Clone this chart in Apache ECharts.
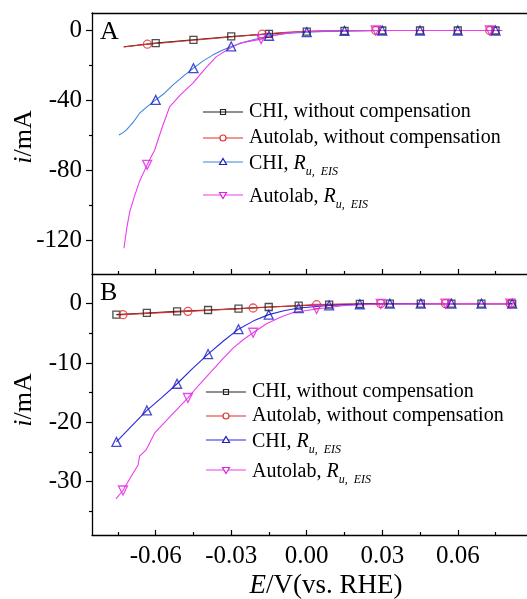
<!DOCTYPE html>
<html lang="en">
<head>
<meta charset="UTF-8" />
<title>LSV compensation</title>
<style>
  html, body { margin: 0; padding: 0; background: #fff; }
  #main { width: 527px; height: 599px; }
</style>
</head>
<body>
<div id="main"></div>
<script src="https://cdn.jsdelivr.net/npm/echarts@6/dist/echarts.min.js"></script>
<script>
// ---- panel A (mA vs V) ----
const aChiLine = [[-0.0727,-9.3],[-0.060,-7.2],[-0.045,-5.3],[-0.030,-3.4],[-0.015,-1.9],[0,-0.6],[0.015,-0.15],[0.030,0],[0.045,0],[0.060,0],[0.075,0],[0.0776,0]];
const aChiMarks = [[-0.060,-7.2],[-0.045,-5.3],[-0.030,-3.4],[-0.015,-1.9],[0,-0.6],[0.015,-0.15],[0.030,0],[0.045,0],[0.060,0],[0.075,0]];
const aAutoLine = [[-0.0727,-9.4],[-0.0633,-7.8],[-0.045,-5.6],[-0.030,-3.7],[-0.0177,-2.1],[-0.008,-1.0],[0,-0.45],[0.010,-0.1],[0.0274,0],[0.0727,0],[0.0776,0]];
const aAutoMarks = [[-0.0633,-7.8],[-0.0177,-2.1],[0.0274,0],[0.0727,0]];
const aRuChiLine = [[-0.0746,-59.6],[-0.0730,-58.3],[-0.0716,-56.7],[-0.0690,-52.5],[-0.0664,-47.2],[-0.0630,-43.0],[-0.060,-39.6],[-0.0565,-35.8],[-0.0531,-31.0],[-0.0490,-26.0],[-0.045,-21.5],[-0.0410,-17.2],[-0.0372,-13.9],[-0.0335,-11.2],[-0.030,-9.1],[-0.0240,-6.3],[-0.015,-3.0],[-0.0070,-1.6],[0,-0.9],[0.0075,-0.5],[0.015,-0.2],[0.030,0],[0.045,0],[0.060,0],[0.075,0],[0.0776,0]];
const aRuChiMarks = [[-0.060,-39.6],[-0.045,-21.5],[-0.030,-9.1],[-0.015,-3.0],[0,-0.9],[0.015,-0.2],[0.030,0],[0.045,0],[0.060,0],[0.075,0]];
const aRuAutoLine = [[-0.0726,-124.3],[-0.0715,-113],[-0.0703,-103.4],[-0.0685,-95],[-0.0664,-86],[-0.0634,-76.7],[-0.0604,-68.2],[-0.0591,-62.5],[-0.0570,-53.5],[-0.0544,-43.4],[-0.0500,-36.5],[-0.0452,-30.0],[-0.0405,-22.0],[-0.0359,-14.9],[-0.0310,-10.5],[-0.0266,-7.2],[-0.0181,-4.9],[-0.0130,-2.8],[-0.0081,-1.5],[0,-0.6],[0.0080,-0.2],[0.0274,0],[0.0727,0],[0.0776,0]];
const aRuAutoMarks = [[-0.0634,-76.7],[-0.0181,-4.9],[0.0274,0],[0.0727,0]];

// ---- panel B ----
const bChiLine = [[-0.0756,-1.85],[-0.0635,-1.57],[-0.0515,-1.3],[-0.0392,-1.07],[-0.0271,-0.84],[-0.0151,-0.56],[-0.0032,-0.34],[0.0089,-0.15],[0.0211,-0.05],[0.0330,0],[0.0453,0],[0.0575,0],[0.0694,0],[0.0816,0]];
const bAutoLine = [[-0.0745,-1.9],[-0.0730,-1.85],[-0.0472,-1.3],[-0.0213,-0.73],[0.0039,-0.17],[0.0294,0],[0.0551,0],[0.0809,0]];
const bAutoMarks = [[-0.0730,-1.85],[-0.0472,-1.3],[-0.0213,-0.73],[0.0039,-0.17],[0.0294,0],[0.0551,0],[0.0809,0]];
const bRuChiLine = [[-0.0756,-23.3],[-0.0695,-20.6],[-0.0635,-18.0],[-0.0575,-15.8],[-0.0515,-13.5],[-0.0453,-10.9],[-0.0392,-8.5],[-0.0331,-6.3],[-0.0271,-4.3],[-0.0211,-2.9],[-0.0151,-1.85],[-0.0091,-1.2],[-0.0032,-0.73],[0.0089,-0.3],[0.0211,-0.1],[0.0330,0],[0.0453,0],[0.0575,0],[0.0694,0],[0.0816,0]];
const bRuChiMarks = [[-0.0756,-23.3],[-0.0635,-18.0],[-0.0515,-13.5],[-0.0392,-8.5],[-0.0271,-4.3],[-0.0151,-1.85],[-0.0032,-0.73],[0.0089,-0.3],[0.0211,-0.1],[0.0330,0],[0.0453,0],[0.0575,0],[0.0694,0],[0.0816,0]];
const bRuAutoLine = [[-0.0758,-32.9],[-0.0730,-31.5],[-0.0700,-29.3],[-0.0670,-27.2],[-0.0664,-25.7],[-0.0637,-24.6],[-0.0604,-21.8],[-0.0540,-18.9],[-0.0472,-15.9],[-0.0430,-13.8],[-0.0385,-11.7],[-0.0340,-9.6],[-0.0293,-7.5],[-0.0250,-6.0],[-0.0213,-4.9],[-0.0160,-3.4],[-0.0100,-2.2],[-0.0054,-1.5],[0.0039,-0.9],[0.0150,-0.3],[0.0294,-0.05],[0.0551,0],[0.0809,0]];
const bRuAutoMarks = [[-0.0730,-31.5],[-0.0472,-15.9],[-0.0213,-4.9],[0.0039,-0.9],[0.0294,-0.05],[0.0551,0],[0.0809,0]];

// ---- ticks ----
const xMajor = [-0.06, -0.03, 0, 0.03, 0.06];
const xMinor = [-0.075, -0.045, -0.015, 0.015, 0.045, 0.075];
const yMajorA = [0, -40, -80, -120];
const yMinorA = [-20, -60, -100];
const yMajorB = [0, -10, -20, -30];
const yMinorB = [-5, -15, -25, -35];

const legendNames = ['CHI, without compensation', 'Autolab, without compensation', 'CHI, ', 'Autolab, '];

const FONT = 'Liberation Serif';
const xMin = -0.0853, xMax = 0.0875;

const dom = document.getElementById('main');
const chart = echarts.init(dom);

function xAx(grid, pos, opts) {
  return Object.assign({
    type: 'value', gridIndex: grid, position: pos, min: xMin, max: xMax,
    axisLine: { show: false, onZero: false, lineStyle: { color: '#000', width: 1.3 } },
    axisTick: { show: false },
    axisLabel: { show: false },
    splitLine: { show: false }
  }, opts);
}
function yAx(grid, min, max, opts) {
  return Object.assign({
    type: 'value', gridIndex: grid, position: 'left', min: min, max: max,
    axisLine: { show: false, onZero: false, lineStyle: { color: '#000', width: 1.3 } },
    axisTick: { show: false },
    axisLabel: { show: false },
    splitLine: { show: false }
  }, opts);
}
const tickStyle = { color: '#000', width: 1.2 };
const labelStyle = { fontFamily: FONT, fontSize: 25, color: '#000' };

const xAxis = [
  // A
  xAx(0, 'bottom', { axisLine: { show: true, onZero: false, lineStyle: { color: '#000', width: 1.3 } },
    axisTick: { show: true, inside: true, length: 5, customValues: xMajor, lineStyle: tickStyle } }),
  xAx(0, 'bottom', { axisTick: { show: true, inside: true, length: 3, customValues: xMinor, lineStyle: tickStyle } }),
  xAx(0, 'top', { axisLine: { show: true, onZero: false, lineStyle: { color: '#000', width: 1.3 } } }),
  // B
  xAx(1, 'bottom', { axisLine: { show: true, onZero: false, lineStyle: { color: '#000', width: 1.3 } },
    axisTick: { show: true, inside: true, length: 5, customValues: xMajor, lineStyle: tickStyle },
    axisLabel: Object.assign({ show: true, customValues: xMajor, margin: 9, formatter: v => v.toFixed(2) }, labelStyle) }),
  xAx(1, 'bottom', { axisTick: { show: true, inside: true, length: 3, customValues: xMinor, lineStyle: tickStyle } })
];

const yAxis = [
  yAx(0, -139, 10, { axisLine: { show: true, onZero: false, lineStyle: { color: '#000', width: 1.3 } },
    axisTick: { show: true, length: 6, customValues: yMajorA, lineStyle: tickStyle },
    axisLabel: Object.assign({ show: true, customValues: yMajorA, margin: 10, formatter: v => String(v) }, labelStyle) }),
  yAx(0, -139, 10, { axisTick: { show: true, length: 3, customValues: yMinorA, lineStyle: tickStyle } }),
  yAx(1, -39, 5, { axisLine: { show: true, onZero: false, lineStyle: { color: '#000', width: 1.3 } },
    axisTick: { show: true, length: 6, customValues: yMajorB, lineStyle: tickStyle },
    axisLabel: Object.assign({ show: true, customValues: yMajorB, margin: 10, formatter: v => String(v) }, labelStyle) }),
  yAx(1, -39, 5, { axisTick: { show: true, length: 3, customValues: yMinorB, lineStyle: tickStyle } })
];

function curve(data, color, xi, yi) {
  return { type: 'line', data: data, xAxisIndex: xi, yAxisIndex: yi, symbol: 'none', showSymbol: false,
    lineStyle: { color: color, width: 1.1 }, z: 2, silent: true };
}
function marks(data, symbol, size, color, xi, yi, rot) {
  return { type: 'scatter', data: data, xAxisIndex: xi, yAxisIndex: yi, symbol: symbol, symbolSize: size,
    symbolRotate: rot || 0, itemStyle: { color: 'rgba(0,0,0,0)', borderColor: color, borderWidth: 1.3 }, z: 3, silent: true };
}

const cBlack = '#222', cRed = '#e0302c', cBlueA = '#3b86d6', cBlueB = '#2828d8', cBlueMk = '#1c1cc4', cMag = '#ee3cee', cMagMk = '#e020e0';

const series = [
  curve(aChiLine, cBlack, 0, 0),
  curve(aAutoLine, cRed, 0, 0),
  curve(aRuChiLine, cBlueA, 0, 0),
  curve(aRuAutoLine, cMag, 0, 0),
  marks(aChiMarks, 'rect', 7, cBlack, 0, 0),
  marks(aAutoMarks, 'circle', 8, cRed, 0, 0),
  marks(aRuChiMarks, 'triangle', 9, cBlueMk, 0, 0),
  marks(aRuAutoMarks, 'triangle', 9, cMagMk, 0, 0, 180),
  curve(bChiLine, cBlack, 3, 2),
  curve(bAutoLine, cRed, 3, 2),
  curve(bRuChiLine, cBlueB, 3, 2),
  curve(bRuAutoLine, cMag, 3, 2),
  marks(bChiLine, 'rect', 7, cBlack, 3, 2),
  marks(bAutoMarks, 'circle', 8, cRed, 3, 2),
  marks(bRuChiMarks, 'triangle', 9, cBlueMk, 3, 2),
  marks(bRuAutoMarks, 'triangle', 9, cMagMk, 3, 2, 180)
];

// legend drawn as graphic rows
const richText = {
  n: { fontFamily: FONT, fontSize: 20, lineHeight: 20, verticalAlign: 'top', fill: '#000' },
  r: { fontFamily: FONT, fontSize: 20, lineHeight: 20, fontStyle: 'italic', verticalAlign: 'top', fill: '#000' },
  s: { fontFamily: FONT, fontSize: 12, lineHeight: 12, fontStyle: 'italic', verticalAlign: 'top', padding: [12, 0, 0, 0], fill: '#000' }
};
function markerShape(kind, cx, cy, color) {
  const st = { fill: 'none', stroke: color, lineWidth: 1.2 };
  if (kind === 'rect') return { type: 'rect', shape: { x: cx - 2.5, y: cy - 2.5, width: 5, height: 5 }, style: st, z: 101 };
  if (kind === 'circle') return { type: 'circle', shape: { cx: cx, cy: cy, r: 3 }, style: Object.assign({}, st, { fill: '#fff' }), z: 101 };
  if (kind === 'up') return { type: 'polygon', shape: { points: [[cx, cy - 3.5], [cx + 3.5, cy + 2.5], [cx - 3.5, cy + 2.5]] }, style: Object.assign({}, st, { fill: '#fff' }), z: 101 };
  return { type: 'polygon', shape: { points: [[cx, cy + 3.5], [cx + 3.5, cy - 2.5], [cx - 3.5, cy - 2.5]] }, style: Object.assign({}, st, { fill: '#fff' }), z: 101 };
}
function legendRows(x0, rows, lineColors, markColors) {
  const kinds = ['rect', 'circle', 'up', 'down'];
  const out = [];
  rows.forEach((y, i) => {
    out.push({ type: 'line', shape: { x1: x0, y1: y, x2: x0 + 40, y2: y }, style: { stroke: lineColors[i], lineWidth: 1.1 }, z: 100 });
    out.push(markerShape(kinds[i], x0 + 20, y, markColors[i]));
    const txt = i < 2 ? '{n|' + legendNames[i] + '}' : '{n|' + legendNames[i] + '}{r|R}{s|u,  EIS}';
    out.push({ type: 'text', x: x0 + 46, y: i < 2 ? y : y + 2, style: { text: txt, rich: richText, fontFamily: FONT, fontSize: 20, verticalAlign: 'middle', align: 'left', fill: '#000' }, z: 100 });
  });
  return out;
}

const graphic = [
  { type: 'text', x: 100, y: 32, style: { text: 'A', fontFamily: FONT, fontSize: 26, fill: '#000', verticalAlign: 'middle' } },
  { type: 'text', x: 100, y: 293, style: { text: 'B', fontFamily: FONT, fontSize: 26, fill: '#000', verticalAlign: 'middle' } },
  { type: 'text', x: 24, y: 137, rotation: Math.PI / 2, style: { text: '{i|i}/mA', rich: { i: { fontFamily: FONT, fontSize: 26, fontStyle: 'italic' } }, fontFamily: FONT, fontSize: 26, fill: '#000', align: 'center', verticalAlign: 'middle' } },
  { type: 'text', x: 24, y: 400, rotation: Math.PI / 2, style: { text: '{i|i}/mA', rich: { i: { fontFamily: FONT, fontSize: 26, fontStyle: 'italic' } }, fontFamily: FONT, fontSize: 26, fill: '#000', align: 'center', verticalAlign: 'middle' } },
  { type: 'text', x: 326, y: 586, style: { text: '{i|E}/V(vs. RHE)', rich: { i: { fontFamily: FONT, fontSize: 27, fontStyle: 'italic' } }, fontFamily: FONT, fontSize: 27, fill: '#000', align: 'center', verticalAlign: 'middle' } }
].concat(
  legendRows(203, [112, 138, 162, 195], [cBlack, cRed, cBlueA, cMag], [cBlack, cRed, cBlueMk, cMagMk]),
  legendRows(206, [392, 416, 440, 470], [cBlack, cRed, cBlueB, cMag], [cBlack, cRed, cBlueMk, cMagMk])
);

chart.setOption({
  animation: false,
  backgroundColor: '#fff',
  grid: [
    { left: 92, top: 13, width: 435, height: 261 },
    { left: 92, top: 274, width: 435, height: 261 }
  ],
  xAxis: xAxis,
  yAxis: yAxis,
  series: series,
  graphic: graphic
});
</script>
</body>
</html>
